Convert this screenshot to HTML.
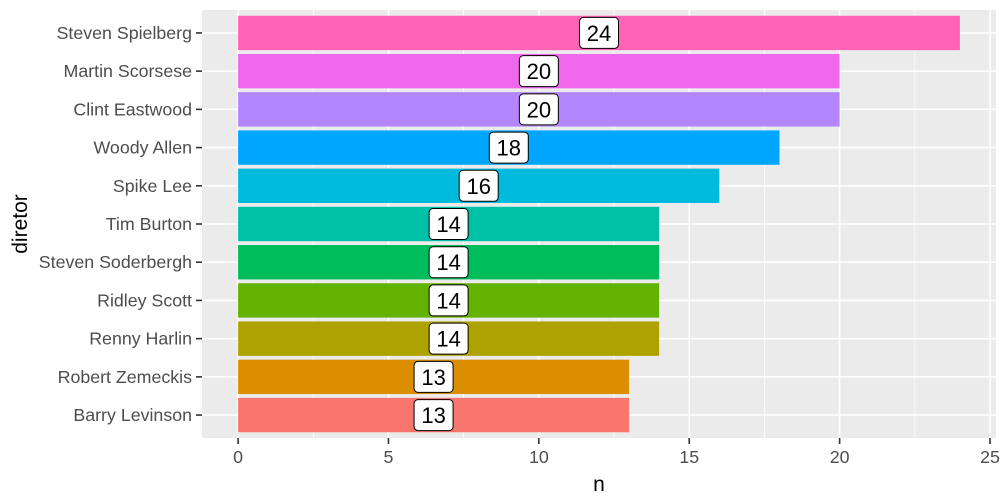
<!DOCTYPE html>
<html><head><meta charset="utf-8"><style>
body{margin:0;background:#fff}
svg{display:block;font-family:"Liberation Sans",Arial,sans-serif}
</style></head><body>
<svg id="chart" width="1008" height="504"></svg>
<script>
const directors=["Barry Levinson","Robert Zemeckis","Renny Harlin","Ridley Scott","Steven Soderbergh","Tim Burton","Spike Lee","Woody Allen","Clint Eastwood","Martin Scorsese","Steven Spielberg"];
const counts=[13,13,14,14,14,14,16,18,20,20,24];
const colors=["#F8766D","#DB8E00","#AEA200","#64B200","#00BD5C","#00C1A7","#00BADE","#00A6FF","#B385FF","#EF67EB","#FF63B6"];
const xTicks=[0,5,10,15,20,25];
const NS="http://www.w3.org/2000/svg";
const svg=document.getElementById('chart');
const L=202,R=996,T=10,B=438;
const xmax=Math.max(...counts);
const x0=-0.05*xmax,x1=xmax*1.05;
const x=v=>L+(v-x0)/(x1-x0)*(R-L);
const n=directors.length;
const step=(B-T)/(n-1+1.2);
const y=i=>B-(0.6+i)*step;
function el(t,a,p){const e=document.createElementNS(NS,t);for(const k in a)e.setAttribute(k,a[k]);(p||svg).appendChild(e);return e;}
const bg=el('rect',{x:L,y:T,width:R-L,height:B-T,fill:'#EBEBEB'});


const grid=el('g',{});


for(let k=0;k<xTicks.length;k++){
  const v=xTicks[k];
  if(k>0){const m=(xTicks[k-1]+v)/2;el('line',{x1:x(m),x2:x(m),y1:T,y2:B,stroke:'#fff','stroke-width':0.7},grid);}
  el('line',{x1:x(v),x2:x(v),y1:T,y2:B,stroke:'#fff','stroke-width':1.6},grid);
}
for(let i=0;i<n;i++) el('line',{x1:L,x2:R,y1:y(i),y2:y(i),stroke:'#fff','stroke-width':1.6},grid);
const bh=step*0.9;
for(let i=0;i<n;i++){
  const b=el('rect',{x:x(0),y:y(i)-bh/2,width:x(counts[i])-x(0),height:bh,fill:colors[i]});
  
  
}
for(let i=0;i<n;i++){
  const cx=x(counts[i]/2),cy=y(i);
  const g=el('g',{});
  
  
  el('rect',{x:cx-19.5,y:cy-15.5,width:39,height:31,rx:4,fill:'#fff',stroke:'#000','stroke-width':1},g);
  const t=el('text',{x:cx,y:cy+8,'text-anchor':'middle','font-size':22,fill:'#000'},g);
  t.textContent=counts[i];
}
for(let i=0;i<n;i++){
  el('line',{x1:L-6,x2:L,y1:y(i),y2:y(i),stroke:'#333','stroke-width':1.6});
  const t=el('text',{x:L-10,y:y(i)+6,'text-anchor':'end','font-size':17.8,fill:'#4D4D4D'});
  
  
  t.textContent=directors[i];
}
for(const v of xTicks){
  el('line',{x1:x(v),x2:x(v),y1:B,y2:B+6,stroke:'#333','stroke-width':1.6});
  const t=el('text',{x:x(v),y:B+25,'text-anchor':'middle','font-size':17.8,fill:'#4D4D4D'});
  
  
  t.textContent=v;
}
const xt=el('text',{x:(L+R)/2,y:491,'text-anchor':'middle','font-size':21,fill:'#000'});


xt.textContent='n';
const yt=el('text',{x:0,y:0,'text-anchor':'middle','font-size':21,fill:'#000',transform:`translate(27,${(T+B)/2}) rotate(-90)`});


yt.textContent='diretor';
</script>
</body></html>
